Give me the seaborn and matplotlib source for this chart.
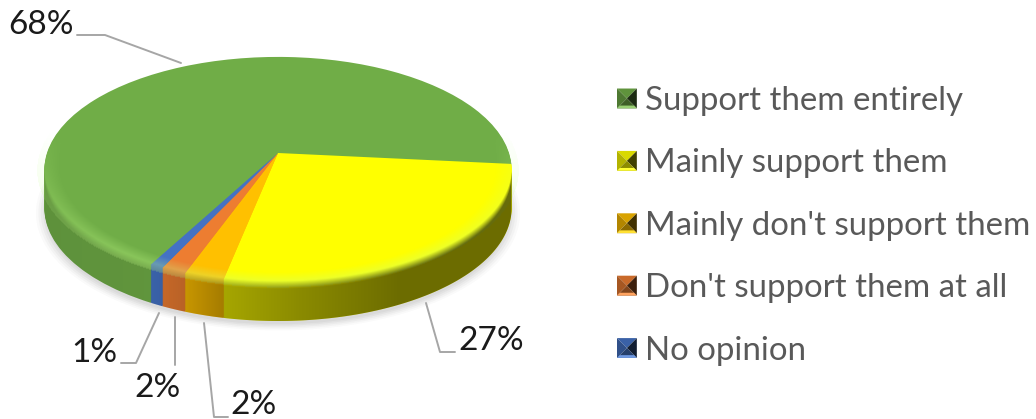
import numpy as np
import matplotlib
matplotlib.use("Agg")
import matplotlib.pyplot as plt
import seaborn as sns
from matplotlib.legend_handler import HandlerBase
from matplotlib.patches import Circle, Polygon, Wedge
from matplotlib.transforms import Affine2D, Transform

categories = ["Support them entirely", "Mainly support them", "Mainly don't support them",
              "Don't support them at all", "No opinion"]
# the labels are these rounded
shares = [68.4, 26.6, 2.4, 1.5, 0.8]
slice_colors = ["#70ad47", "#ffff00", "#ffc000", "#ed7d31", "#4472c4"]

CX, CY = 278, 153
RX, RY = 231, 110.5
TILT = 0.15
DEPTH = 38

sns.set_theme(style="white")
plt.rcParams["font.family"] = ["Lato", "DejaVu Sans"]


class Tilt(Transform):
    """Unit disk to the perspective ellipse, output in pixel style data coords."""
    input_dims = output_dims = 2
    has_inverse = False

    def transform_non_affine(self, values):
        u, v = np.asarray(values).T
        w = 1 + TILT * v
        return np.column_stack([CX + RX * u / w, CY - RY * v / w])


class PyramidHandler(HandlerBase):
    """Legend swatch with four bevelled triangles."""

    def create_artists(self, legend, orig_handle, xd, yd, width, height, fontsize, trans):
        base = np.array(matplotlib.colors.to_rgb(orig_handle.get_facecolor()))
        s = width
        x0, y0 = -xd, -yd + (height - s) / 2
        mid = (x0 + s / 2, y0 + s / 2)
        a, b, c, d = (x0, y0), (x0 + s, y0), (x0 + s, y0 + s), (x0, y0 + s)
        strip = s * 0.14
        faces = [((d, c, mid), base * 0.85), ((a, d, mid), base * 0.7),
                 ((b, c, mid), base * 0.25), ((a, b, mid), base * 0.55),
                 ((a, b, (x0 + s - strip, y0 + strip), (x0 + strip, y0 + strip)),
                  np.minimum(base * 0.9 + 0.2, 1))]
        return [Polygon(p, facecolor=col, edgecolor="none", transform=trans) for p, col in faces]


fig = plt.figure(figsize=(10.36, 4.19), dpi=100)
ax = fig.add_axes([0, 0, 1, 1])
tilt = Tilt()

# soft shadow under the pie
for grow, alpha in zip([1.035, 1.025, 1.015, 1.005, 0.995], [0.03, 0.04, 0.05, 0.06, 0.06]):
    ax.add_patch(Circle((0, 0), grow, facecolor="#606060", edgecolor="none", alpha=alpha,
                        transform=tilt + Affine2D().translate(0, DEPTH + 4) + ax.transData))

start = 241.4

# side wall: the same pie stacked downwards
for d in range(DEPTH, 0, -1):
    side, _ = ax.pie(shares, colors=slice_colors, startangle=start, counterclock=False,
                     wedgeprops={"linewidth": 0})
    for w in side:
        w.set_transform(tilt + Affine2D().translate(0, d) + ax.transData)

# top face
wedges, _ = ax.pie(shares, colors=slice_colors, startangle=start, counterclock=False,
                   wedgeprops={"linewidth": 0, "zorder": 3})
for w in wedges:
    w.set_transform(tilt + ax.transData)

xx, yy = np.meshgrid(np.arange(1036) + 0.5, np.arange(419) + 0.5)

# light bevel ring along the front of the top face
ny = (CY - yy) / RY
nv = ny / (1 - TILT * ny)
nu = (xx - CX) / RX * (1 + TILT * nv)
radius = np.hypot(nu, nv)
glow = np.zeros((419, 1036, 4))
glow[..., :3] = matplotlib.colors.to_rgb("#c4ff8a")
glow[..., 3] = (0.3 * np.clip((radius - 0.93) / 0.06, 0, 1) * (radius < 1.03)
                * np.clip(0.2 - nv, 0, 1))
ax.imshow(glow, extent=(0, 1036, 419, 0), interpolation="bilinear", zorder=3.2)

# dark gradient on the side wall, fading in around the rim
lim = np.degrees(np.arcsin(TILT))
theta = np.radians(np.linspace(180 + lim, 360 - lim, 200))
rim = tilt.transform(np.column_stack([np.cos(theta), np.sin(theta)]))
edge = np.interp(xx, rim[:, 0], rim[:, 1])
dark = np.interp(xx, [45, 150, 185, 222, 300, 400, 512], [0.16, 0.14, 0.22, 0.35, 0.46, 0.58, 0.58])
shade = np.zeros((419, 1036, 4))
shade[..., 3] = dark * np.clip((yy - edge + 2) / 8, 0, 1)
img = ax.imshow(shade, extent=(0, 1036, 419, 0), interpolation="bilinear", zorder=3.4)
img.set_clip_path(Polygon(np.vstack([rim + [0, -5], (rim + [0, DEPTH])[::-1]]), transform=ax.transData))

# leader lines and labels, same order as shares
leaders = [[(77, 35), (105, 35), (181, 63)],
           [(426, 303), (440, 352), (455, 352)],
           [(204, 323), (214, 417), (228, 417)],
           [(175, 317), (175, 365)],
           [(121, 363), (136, 363), (159, 313)]]
label_pos = [(41, 25), (491, 341), (254, 405), (158, 388), (94, 353)]
for pts, pos, val in zip(leaders, label_pos, shares):
    xs, ys = zip(*pts)
    ax.plot(xs, ys, color="#a6a6a6", lw=1.4, zorder=4)
    ax.text(pos[0], pos[1], f"{round(val)}%", ha="center", va="center", fontsize=24,
            color="#1a1a1a", zorder=5)

ax.set_aspect("auto")
ax.set_xlim(0, 1036)
ax.set_ylim(419, 0)
ax.axis("off")

ax.legend(wedges, categories, handler_map={Wedge: PyramidHandler()}, loc="upper left",
          bbox_to_anchor=(617 / 1036, 1 - 86 / 419), frameon=False, fontsize=23.8, labelcolor="#595959",
          handlelength=0.6, handletextpad=0.25, labelspacing=0.98, borderpad=0, borderaxespad=0)

fig.savefig("out.png", dpi=100)
